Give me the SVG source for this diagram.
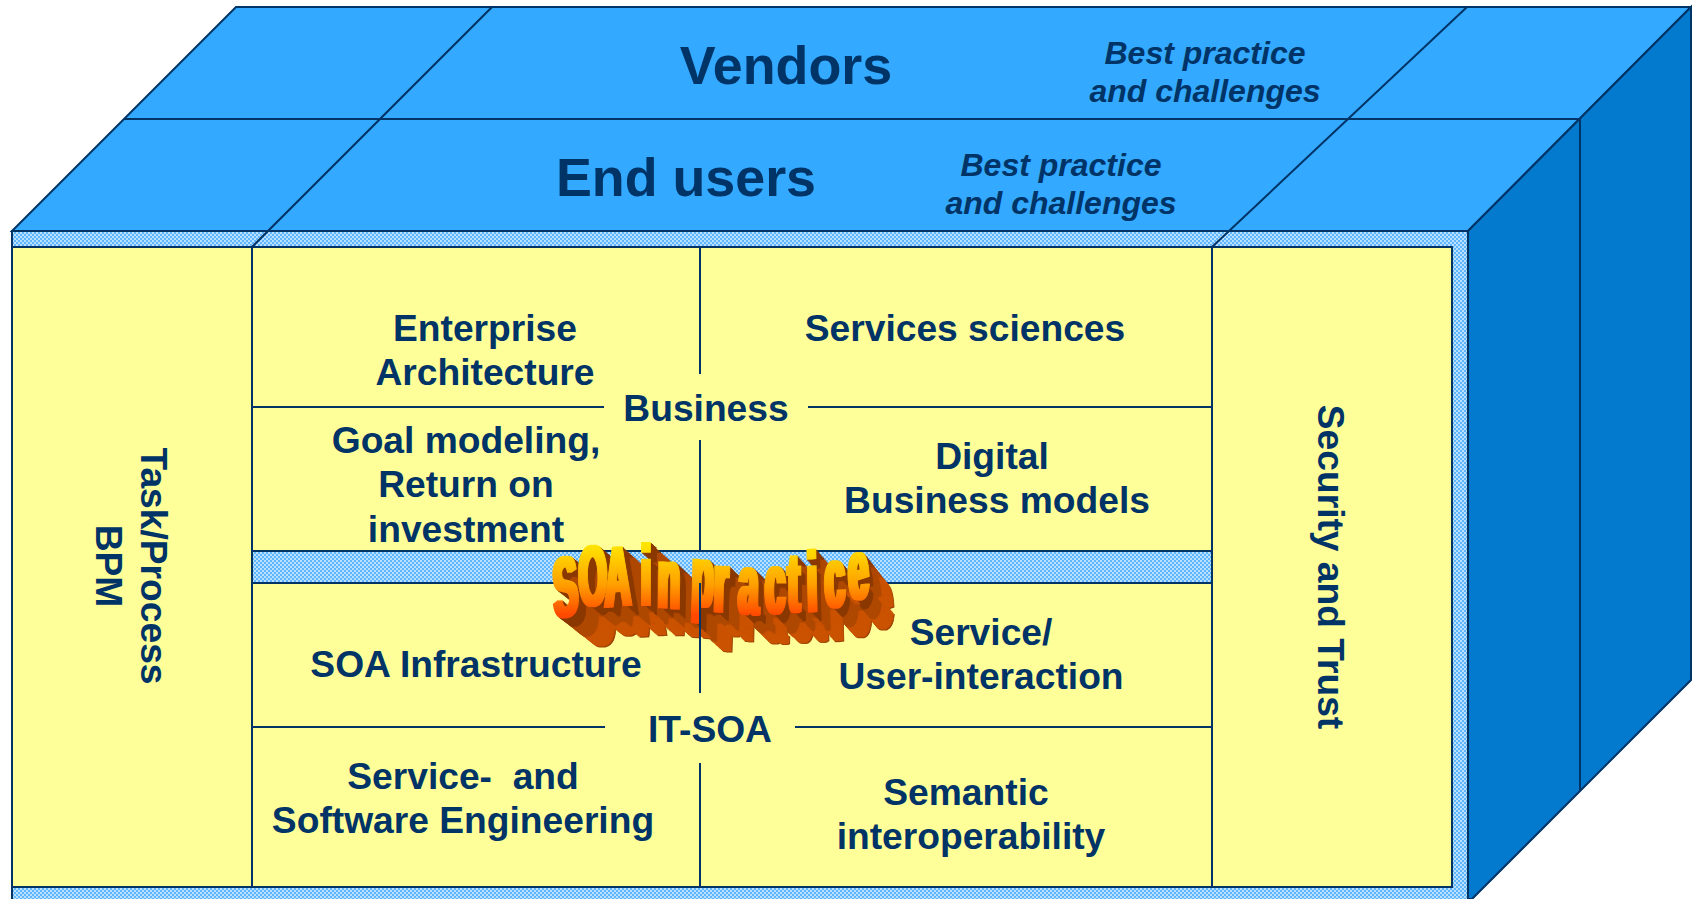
<svg xmlns="http://www.w3.org/2000/svg" xmlns:xlink="http://www.w3.org/1999/xlink" width="1692" height="899" viewBox="0 0 1692 899">
<style>
.e{stroke:#003366;stroke-width:2;stroke-linejoin:miter}
.l{stroke:#003366;stroke-width:2;fill:none}
text{font-family:"Liberation Sans",Arial,sans-serif;font-weight:700;fill:#003366;text-anchor:middle;white-space:pre}
.big{font-size:53.8px}.sm{font-size:37.2px}.it{font-size:32px;font-style:italic}
text.wa{fill:inherit;stroke:inherit;stroke-width:2;text-anchor:start;font-size:85px}
</style>
<defs>
<pattern id="chk" width="4" height="4" patternUnits="userSpaceOnUse">
<rect width="4" height="4" fill="#5fb5ff"/><rect x="0" y="0" width="2" height="2" fill="#b8e0ff"/><rect x="2" y="2" width="2" height="2" fill="#b8e0ff"/>
</pattern>
<linearGradient id="wa" x1="0" y1="0" x2="0" y2="1"><stop offset="0.22" stop-color="#ffe400"/><stop offset="0.55" stop-color="#ff9f00"/><stop offset="0.8" stop-color="#ff4a00"/></linearGradient>
<filter id="fat" filterUnits="userSpaceOnUse" x="500" y="500" width="450" height="180"><feMorphology operator="dilate" radius="1.7 0"/></filter>
<text id="soa" class="wa" transform="scale(.42 1)" x="1322 1381 1441 1500 1526 1566 1619 1646 1699 1758 1822 1876 1923 1966 2024" y="620 608 607 607 605 607 605 604 611 613 613 612 612 609 602" rotate="-8 -5 -2 0 0 2 3 4 3 2 0 -1 -3 -5 -8">SOA in practice</text>
</defs>
<g id="box">
<polygon class="e" fill="#33a9ff" points="236,7 1691,7 1468,231 12,231"/>
<polygon class="e" fill="#047acf" points="1691,7 1691,680 1472,899 1468,899 1468,231"/>
<rect class="e" fill="url(#chk)" x="12" y="231" width="1456" height="670"/>
<rect class="e" fill="#ffff99" x="12" y="247" width="1440" height="640"/>
<rect class="e" fill="url(#chk)" x="252" y="551" width="960" height="32"/>
</g>
<g id="connectors">
<path class="l" d="M124 119H1580V790M252 247L492 7M1212 247L1467 7M252 247V887M1212 247V887M700 247V374M700 440V551M700 763V887M252 407H604M808 407H1212M252 727H605M795 727H1212"/>
</g>
<g id="vendors"><text class="big" x="786" y="84">Vendors</text>
<text class="it" x="1205" y="64">Best practice</text><text class="it" x="1205" y="102">and challenges</text></g>
<g id="endusers"><text class="big" x="686" y="196">End users</text>
<text class="it" x="1061" y="176">Best practice</text><text class="it" x="1061" y="214">and challenges</text></g>
<g id="task"><text class="sm" transform="translate(141 566) rotate(90)">Task/Process</text><text class="sm" transform="translate(96 566) rotate(90)">BPM</text></g>
<g id="security"><text class="sm" transform="translate(1318 567) rotate(90)">Security and Trust</text></g>
<g id="ea"><text class="sm" x="485" y="341">Enterprise</text><text class="sm" x="485" y="385">Architecture</text></g>
<g id="ss"><text class="sm" x="965" y="341">Services sciences</text></g>
<g id="business"><text class="sm" x="706" y="421">Business</text></g>
<g id="goal"><text class="sm" x="466" y="453">Goal modeling,</text><text class="sm" x="466" y="497">Return on</text><text class="sm" x="466" y="542">investment</text></g>
<g id="digital"><text class="sm" x="992" y="469">Digital</text><text class="sm" x="997" y="513">Business models</text></g>
<g id="soainfra"><text class="sm" x="476" y="677">SOA Infrastructure</text></g>
<g id="sui"><text class="sm" x="981" y="645">Service/</text><text class="sm" x="981" y="689">User-interaction</text></g>
<g id="itsoa"><text class="sm" x="710" y="742">IT-SOA</text></g>
<g id="sse"><text class="sm" x="463" y="789">Service-  and</text><text class="sm" x="463" y="833">Software Engineering</text></g>
<g id="semantic"><text class="sm" x="966" y="805">Semantic</text><text class="sm" x="971" y="849">interoperability</text></g>
<g id="soa-art" filter="url(#fat)">
<g fill="#9a3f00" stroke="#9a3f00">
<use href="#soa" transform="matrix(.9568 0 0 .9568 62.1 55.86)"/>
</g>
<g fill="#c95200" stroke="#c95200">
<use href="#soa" transform="matrix(.95824 0 0 .95824 60.03 54)"/>
<use href="#soa" transform="matrix(.95968 0 0 .95968 57.96 52.14)"/>
<use href="#soa" transform="matrix(.96112 0 0 .96112 55.89 50.27)"/>
<use href="#soa" transform="matrix(.96256 0 0 .96256 53.82 48.41)"/>
<use href="#soa" transform="matrix(.964 0 0 .964 51.75 46.55)"/>
<use href="#soa" transform="matrix(.96544 0 0 .96544 49.68 44.69)"/>
<use href="#soa" transform="matrix(.96688 0 0 .96688 47.61 42.83)"/>
<use href="#soa" transform="matrix(.96832 0 0 .96832 45.54 40.96)"/>
<use href="#soa" transform="matrix(.96976 0 0 .96976 43.47 39.1)"/>
<use href="#soa" transform="matrix(.9712 0 0 .9712 41.4 37.24)"/>
</g>
<g fill="#ae4700" stroke="#ae4700">
<use href="#soa" transform="matrix(.97264 0 0 .97264 39.33 35.38)"/>
<use href="#soa" transform="matrix(.97408 0 0 .97408 37.26 33.52)"/>
<use href="#soa" transform="matrix(.97552 0 0 .97552 35.19 31.65)"/>
<use href="#soa" transform="matrix(.97696 0 0 .97696 33.12 29.79)"/>
<use href="#soa" transform="matrix(.9784 0 0 .9784 31.05 27.93)"/>
<use href="#soa" transform="matrix(.97984 0 0 .97984 28.98 26.07)"/>
<use href="#soa" transform="matrix(.98128 0 0 .98128 26.91 24.21)"/>
<use href="#soa" transform="matrix(.98272 0 0 .98272 24.84 22.34)"/>
<use href="#soa" transform="matrix(.98416 0 0 .98416 22.77 20.48)"/>
<use href="#soa" transform="matrix(.9856 0 0 .9856 20.7 18.62)"/>
</g>
<g fill="#8a3800" stroke="#8a3800">
<use href="#soa" transform="matrix(.98704 0 0 .98704 18.63 16.76)"/>
<use href="#soa" transform="matrix(.98848 0 0 .98848 16.56 14.9)"/>
<use href="#soa" transform="matrix(.98992 0 0 .98992 14.49 13.03)"/>
<use href="#soa" transform="matrix(.99136 0 0 .99136 12.42 11.17)"/>
<use href="#soa" transform="matrix(.9928 0 0 .9928 10.35 9.31)"/>
<use href="#soa" transform="matrix(.99424 0 0 .99424 8.28 7.45)"/>
<use href="#soa" transform="matrix(.99568 0 0 .99568 6.21 5.59)"/>
<use href="#soa" transform="matrix(.99712 0 0 .99712 4.14 3.72)"/>
<use href="#soa" transform="matrix(.99856 0 0 .99856 2.07 1.86)"/>
</g>
<use href="#soa" fill="url(#wa)" stroke="url(#wa)"/>
</g>
<g id="connectors-front"><path class="l" d="M700 583V693"/></g>
</svg>
